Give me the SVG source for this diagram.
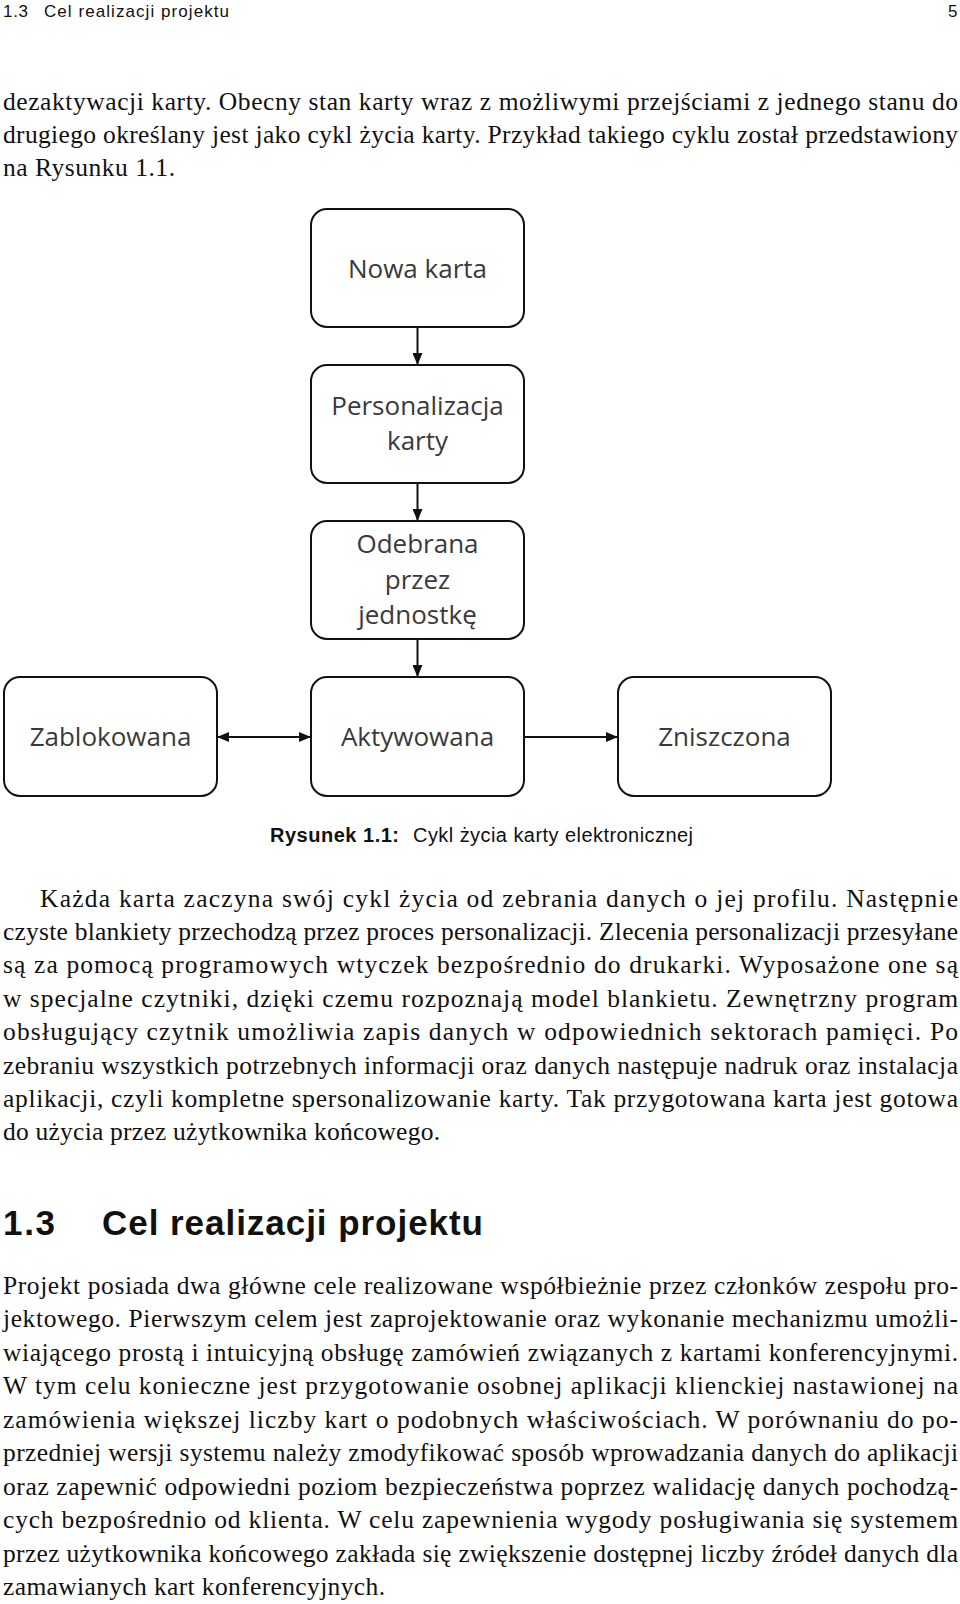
<svg xmlns="http://www.w3.org/2000/svg" width="960" height="1604" viewBox="0 0 960 1604">
<style>
.bg{fill:#ffffff}
.box{fill:#ffffff;stroke:#111111;stroke-width:2}
.lbl{font-family:"Open Sans","DejaVu Sans",sans-serif;font-size:26px;fill:#3a3a3a;text-anchor:middle}
.edge{stroke:#111111;stroke-width:2;fill:none}
.body{font-family:"Liberation Serif","Times New Roman",serif;font-size:25.5px;fill:#111111}
.sans{font-family:"Liberation Sans",Arial,sans-serif;fill:#111111}
</style>
<defs>
<marker id="arr" viewBox="0 0 12 10" refX="12" refY="5" markerWidth="12" markerHeight="10" markerUnits="userSpaceOnUse" orient="auto-start-reverse">
<path d="M0,0 L12,5 L0,10 z" fill="#111111"/>
</marker>
</defs>
<rect class="bg" x="0" y="0" width="960" height="1604"/>

<!-- running header -->
<text class="sans" x="3" y="17" font-size="17" textLength="25" lengthAdjust="spacing">1.3</text>
<text class="sans" x="44" y="17" font-size="17" textLength="185" lengthAdjust="spacing">Cel realizacji projektu</text>
<text class="sans" x="948" y="17" font-size="17">5</text>

<!-- paragraph 1 -->
<text class="body" x="3" y="110" textLength="955" lengthAdjust="spacing">dezaktywacji karty. Obecny stan karty wraz z możliwymi przejściami z jednego stanu do</text>
<text class="body" x="3" y="143.3" textLength="955" lengthAdjust="spacing">drugiego określany jest jako cykl życia karty. Przykład takiego cyklu został przedstawiony</text>
<text class="body" x="3" y="176" textLength="172" lengthAdjust="spacing">na Rysunku 1.1.</text>

<!-- diagram nodes -->
<g id="node-nowa-karta">
<rect class="box" x="311" y="209" width="213" height="118" rx="16"/>
<text class="lbl" x="417.5" y="278">Nowa karta</text>
</g>
<g id="node-personalizacja">
<rect class="box" x="311" y="365" width="213" height="118" rx="16"/>
<text class="lbl" x="417.5" y="415">Personalizacja</text>
<text class="lbl" x="417.5" y="450">karty</text>
</g>
<g id="node-odebrana">
<rect class="box" x="311" y="521" width="213" height="118" rx="16"/>
<text class="lbl" x="417.5" y="553">Odebrana</text>
<text class="lbl" x="417.5" y="588.5">przez</text>
<text class="lbl" x="417.5" y="624">jednostkę</text>
</g>
<g id="node-zablokowana">
<rect class="box" x="4" y="677" width="213" height="119" rx="16"/>
<text class="lbl" x="110.5" y="746">Zablokowana</text>
</g>
<g id="node-aktywowana">
<rect class="box" x="311" y="677" width="213" height="119" rx="16"/>
<text class="lbl" x="417.5" y="746">Aktywowana</text>
</g>
<g id="node-zniszczona">
<rect class="box" x="618" y="677" width="213" height="119" rx="16"/>
<text class="lbl" x="724.5" y="746">Zniszczona</text>
</g>

<!-- connectors -->
<g id="connectors">
<line class="edge" x1="417.5" y1="327" x2="417.5" y2="365" marker-end="url(#arr)"/>
<line class="edge" x1="417.5" y1="483" x2="417.5" y2="521" marker-end="url(#arr)"/>
<line class="edge" x1="417.5" y1="639" x2="417.5" y2="677" marker-end="url(#arr)"/>
<line class="edge" x1="217" y1="737" x2="311" y2="737" marker-start="url(#arr)" marker-end="url(#arr)"/>
<line class="edge" x1="524" y1="737" x2="618" y2="737" marker-end="url(#arr)"/>
</g>

<!-- caption -->
<text class="sans" x="270" y="842" font-size="20" font-weight="bold" textLength="129" lengthAdjust="spacing">Rysunek 1.1:</text>
<text class="sans" x="413" y="842" font-size="20" textLength="280" lengthAdjust="spacing">Cykl życia karty elektronicznej</text>

<!-- paragraph 2 -->
<text class="body" x="40" y="906.5" textLength="918" lengthAdjust="spacing">Każda karta zaczyna swój cykl życia od zebrania danych o jej profilu. Następnie</text>
<text class="body" x="3" y="939.9" textLength="955" lengthAdjust="spacing">czyste blankiety przechodzą przez proces personalizacji. Zlecenia personalizacji przesyłane</text>
<text class="body" x="3" y="973.3" textLength="955" lengthAdjust="spacing">są za pomocą programowych wtyczek bezpośrednio do drukarki. Wyposażone one są</text>
<text class="body" x="3" y="1006.7" textLength="955" lengthAdjust="spacing">w specjalne czytniki, dzięki czemu rozpoznają model blankietu. Zewnętrzny program</text>
<text class="body" x="3" y="1040.1" textLength="955" lengthAdjust="spacing">obsługujący czytnik umożliwia zapis danych w odpowiednich sektorach pamięci. Po</text>
<text class="body" x="3" y="1073.5" textLength="955" lengthAdjust="spacing">zebraniu wszystkich potrzebnych informacji oraz danych następuje nadruk oraz instalacja</text>
<text class="body" x="3" y="1106.9" textLength="955" lengthAdjust="spacing">aplikacji, czyli kompletne spersonalizowanie karty. Tak przygotowana karta jest gotowa</text>
<text class="body" x="3" y="1140.3" textLength="437" lengthAdjust="spacing">do użycia przez użytkownika końcowego.</text>

<!-- section heading -->
<text class="sans" x="3" y="1235" font-size="35" font-weight="bold" textLength="52" lengthAdjust="spacing">1.3</text>
<text class="sans" x="102" y="1235" font-size="35" font-weight="bold" textLength="381" lengthAdjust="spacing">Cel realizacji projektu</text>

<!-- paragraph 3 -->
<text class="body" x="3" y="1293.5" textLength="955" lengthAdjust="spacing">Projekt posiada dwa główne cele realizowane współbieżnie przez członków zespołu pro-</text>
<text class="body" x="3" y="1327" textLength="955" lengthAdjust="spacing">jektowego. Pierwszym celem jest zaprojektowanie oraz wykonanie mechanizmu umożli-</text>
<text class="body" x="3" y="1360.5" textLength="955" lengthAdjust="spacing">wiającego prostą i intuicyjną obsługę zamówień związanych z kartami konferencyjnymi.</text>
<text class="body" x="3" y="1394" textLength="955" lengthAdjust="spacing">W tym celu konieczne jest przygotowanie osobnej aplikacji klienckiej nastawionej na</text>
<text class="body" x="3" y="1427.5" textLength="955" lengthAdjust="spacing">zamówienia większej liczby kart o podobnych właściwościach. W porównaniu do po-</text>
<text class="body" x="3" y="1461" textLength="955" lengthAdjust="spacing">przedniej wersji systemu należy zmodyfikować sposób wprowadzania danych do aplikacji</text>
<text class="body" x="3" y="1494.5" textLength="955" lengthAdjust="spacing">oraz zapewnić odpowiedni poziom bezpieczeństwa poprzez walidację danych pochodzą-</text>
<text class="body" x="3" y="1528" textLength="955" lengthAdjust="spacing">cych bezpośrednio od klienta. W celu zapewnienia wygody posługiwania się systemem</text>
<text class="body" x="3" y="1561.5" textLength="955" lengthAdjust="spacing">przez użytkownika końcowego zakłada się zwiększenie dostępnej liczby źródeł danych dla</text>
<text class="body" x="3" y="1595" textLength="382" lengthAdjust="spacing">zamawianych kart konferencyjnych.</text>
</svg>
